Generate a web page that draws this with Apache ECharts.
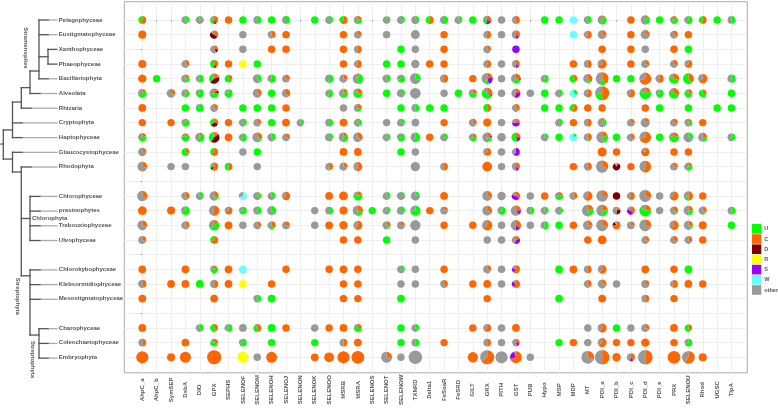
<!DOCTYPE html>
<html>
<head>
<meta charset="utf-8">
<title>Selenoprotein families across taxa</title>
<style>
  html, body { margin: 0; padding: 0; background: #fff; }
  #chart { width: 778px; height: 408px; }
</style>
<script src="https://cdn.jsdelivr.net/npm/echarts@6/dist/echarts.min.js"></script>
</head>
<body>
<div id="chart"></div>
<script>
var families = ['AhpC_a', 'AhpC_b', 'SymSEP', 'DsbA', 'DIO', 'GPX', 'SEPHS', 'SELENOF', 'SELENOM', 'SELENOH', 'SELENOJ',
  'SELENON', 'SELENOK', 'SELENOO', 'MSRB', 'MSRA', 'SELENOS', 'SELENOT', 'SELENOW', 'TXNRD', 'Delta1', 'FeSoaR', 'FeSRD',
  'GILT', 'GRX', 'PITH', 'GST', 'PUB', 'Hypo', 'MSP', 'MDP', 'MT', 'PDI_a', 'PDI_b', 'PDI_c', 'PDI_d', 'PDI_e', 'PRX',
  'SELENOU', 'Rhod', 'UGSC', 'TlpA'];

var taxa = ['Pelagophyceae', 'Eustigmatophyceae', 'Xanthophyceae', 'Phaeophyceae', 'Bacillariophyta', 'Alveolata', 'Rhizaria',
  'Cryptophyta', 'Haptophyceae', 'Glaucocystophyceae', 'Rhodophyta', '', 'Chlorophyceae', 'prasinophytes', 'Trebouxiophyceae',
  'Ulvophyceae', '', 'Chlorokybophyceae', 'Klebsormidiophyceae', 'Mesostigmatophyceae', '', 'Charophyceae', 'Coleochaetophyceae',
  'Embryophyta'];

var residues = ['U', 'C', 'D', 'R', 'S', 'W', 'other'];
var residueColors = ['#00ff00', '#ff6600', '#7f0000', '#ffff00', '#9900ff', '#66ffff', '#999999'];
var sliceOrder = ['C', 'D', 'R', 'S', 'U', 'W', 'other'];

// one row per taxon: [family index, shares (o = other), sequence count, default 10]
var pelagophyceae = [[0,'C65 U35',12],[3,'U40 o60',12],[4,'U15 o85',12],[5,'C40 D10 U30 o20',14],[6,'C'],[7,'U'],[8,'U50 o50',12],[9,'U'],[10,'U50 o50',12],
  [12,'U'],[13,'U30 o70',12],[14,'C65 U35',14],[15,'C20 U30 o50',14],[17,'U25 o75'],[18,'U30 o70',12],[19,'U25 o75',14],[20,'C55 U45',14],[21,'U50 o50',14],
  [22,'U30 o70',12],[23,'U'],[24,'C30 S25 U20 o25',17],[25,'o'],[26,'C50 o50',12],[28,'U'],[29,'U'],[30,'W'],[31,'U45 o55',12],[32,'C10 U45 o45',23],[34,'C'],
  [35,'C10 U35 o55',25],[36,'U'],[37,'C15 U50 o35',12],[38,'U60 o40',14],[39,'C60 U40',12],[40,'U'],[41,'U50 o50',12]];
var eustigmatophyceae = [[0,'C',14],[5,'C35 D50 o15',14],[7,'o'],[9,'C45 o55',12],[10,'C'],[14,'C'],[15,'C30 o70',12],[17,'o'],[19,'o',23],[21,'C'],
  [24,'C55 o45',12],[25,'o'],[26,'C35 S15 o50',14],[30,'W'],[31,'C60 o40',12],[32,'C30 o70',21],[34,'C'],[35,'C25 o75',25],[37,'C35 o65',12],[38,'C']];
var xanthophyceae = [[5,'C25 D15 o60',12],[7,'o'],[9,'C'],[10,'C'],[14,'C'],[15,'C50 o50',12],[18,'U'],[19,'o'],[21,'C'],[24,'C30 o70',12],[26,'S'],
  [32,'C'],[34,'C'],[35,'o'],[37,'C'],[38,'U']];
var phaeophyceae = [[0,'C',15],[3,'C35 o65',12],[5,'C40 D10 U50',14],[6,'C'],[7,'R'],[8,'U'],[14,'C'],[15,'C60 o40',12],[17,'U'],[18,'U'],[19,'o',17],[20,'C'],[21,'C'],
  [24,'C55 o45',12],[25,'o'],[26,'C35 S15 o50',12],[30,'C'],[31,'C50 o50',12],[32,'C70 o30',25],[34,'C'],[35,'C30 o70',14],[37,'C35 o65',12],[38,'C70 o30',12]];
var bacillariophyta = [[0,'C',17],[1,'U'],[3,'C20 U25 o55',17],[4,'U60 o40',12],[5,'C20 D45 U25 o10',42],[6,'C30 U70',12],[8,'U40 o60',21],[9,'U60 o40',17],[10,'C30 o70',12],
  [13,'U55 o45',14],[14,'C30 o70',14],[15,'C5 U45 o50',42],[17,'U40 o60',14],[18,'U70 o30',12],[19,'U30 o70',49],[21,'C50 o50',14],[23,'C'],[24,'C20 S25 U15 o40',57],
  [25,'o'],[26,'C25 S5 U30 o40',33],[28,'U55 o45',12],[30,'C40 U60',12],[31,'C40 U10 o50',25],[32,'C40 U15 o45',105],[33,'U'],[34,'U'],[35,'C70 o30',80],[36,'C60 o40',14],
  [37,'C30 U50 o20',42],[38,'C40 U60',53],[39,'C65 o35',27],[41,'U55 o45',14]];
var alveolata = [[0,'C15 U55 o30',21],[2,'C30 U5 o65',21],[3,'C15 U40 o45',14],[4,'U70 o30',14],[5,'C15 D10 U45 o30',27],[6,'U80 o20',14],[8,'C30 o70',23],[9,'U'],
  [10,'C40 o60',17],[13,'U55 o45',12],[14,'C20 U40 o40',23],[15,'C25 U55 o20',27],[17,'U'],[18,'U30 o70',14],[19,'o',49],[21,'o'],[22,'U'],[23,'C25 U50 o25',14],
  [24,'C30 S5 U50 o15',53],[25,'o'],[26,'C20 S35 o45',23],[27,'o'],[28,'U'],[29,'U35 o65',12],[30,'U30 W70',12],[31,'C55 o45',14],[32,'C50 U25 o25',160],[34,'C65 o35',14],
  [35,'C20 U60 o20',65],[36,'U70 o30',12],[37,'C30 U55 o15',42],[38,'C25 U60 o15',14],[39,'C30 U70',12],[41,'U']];
var rhizaria = [[0,'C',12],[3,'U'],[4,'U75 o25',12],[5,'C30 o70',12],[7,'U'],[8,'U'],[9,'U'],[10,'C'],[14,'o'],[15,'C30 U20 o50',12],[18,'U'],[19,'U50 o50',12],[20,'U'],[21,'U'],
  [24,'C50 U50',12],[26,'C40 o60',12],[28,'U'],[29,'U'],[30,'C60 U40',12],[31,'C'],[32,'C'],[35,'C'],[36,'U'],[38,'U'],[40,'U'],[41,'U']];
var cryptophyta = [[0,'C'],[2,'C'],[3,'C10 U60 o30',12],[5,'C30 D35 U35',14],[6,'C'],[7,'U40 o60',12],[8,'C30 o70',12],[9,'U'],[10,'C',12],[11,'U30 o70'],[13,'U50 o50',12],
  [14,'C',12],[15,'C10 U30 o60',12],[17,'o'],[18,'U30 o70',12],[19,'o',12],[21,'C'],[23,'C35 o65',12],[24,'C',14],[25,'o'],[26,'C25 S50 o25',12],[29,'U30 o70',12],
  [30,'C'],[31,'C50 o50',12],[32,'C10 U25 o65',23],[34,'C30 o70',12],[35,'C20 o80',25],[37,'C30 o70',12],[38,'C20 U25 o55',12],[39,'C']];
var haptophyceae = [[0,'C20 U50 o30',17],[3,'C15 U65 o20',14],[4,'C10 U50 o40',25],[5,'C15 D45 U35 o5',49],[6,'C',12],[7,'U60 o40',12],[8,'C30 U10 o60',33],[9,'U40 o60',14],
  [10,'C30 o70',12],[13,'U30 o70',14],[14,'C15 U40 o45',27],[15,'C35 o65',30],[17,'U35 o65',12],[18,'U70 o30',12],[19,'U60 o40',30],[20,'C'],[21,'U30 o70',12],
  [23,'C25 U40 o35',12],[24,'C20 S5 U20 o55',33],[25,'o',17],[26,'C25 S20 U55',23],[28,'U30 o70',12],[29,'U'],[30,'U20 W80',12],[31,'C45 U10 o45',14],[32,'C20 U25 o55',70],
  [33,'U'],[34,'C35 o65',12],[35,'C70 o30',70],[36,'U'],[37,'C20 U60 o20',33],[38,'U30 o70',33],[39,'C25 U25 o50',23],[41,'U45 o55',12]];
var glaucocystophyceae = [[0,'C25 o75',17],[3,'C30 U70',12],[5,'C70 U30',12],[7,'o'],[8,'U'],[14,'C',12],[15,'C',12],[18,'U'],[19,'o'],[24,'C70 o30',12],[25,'o'],[26,'S60 o40',12],
  [32,'C',23],[33,'C'],[35,'C80 o20',17],[37,'C'],[38,'C']];
var rhodophyta = [[0,'C30 o70',33],[2,'o'],[3,'o'],[5,'C60 D10 U10 o20',14],[6,'C50 U50',12],[8,'o'],[13,'C45 U10 o45',12],[14,'C30 o70',14],[15,'C55 o45',23],[19,'o',27],
  [21,'C50 o50',12],[24,'C',33],[25,'o'],[26,'C35 S15 o50',14],[30,'C'],[31,'C45 o55',14],[32,'C30 o70',86],[33,'C10 D80 o10'],[34,'C'],[35,'C55 o45',70],[37,'C30 o70',12],[38,'C20 U40 o40',14]];
var chlorophyceae = [[0,'C35 o65',42],[3,'C40 o60',14],[4,'U30 o70',12],[5,'C25 U15 o60',27],[7,'W70 o30',14],[8,'C10 U25 o65',14],[9,'U30 o70',12],[10,'C65 o35',17],[13,'C',12],
  [14,'C',21],[15,'C20 U60 o20',23],[17,'U30 o70',12],[18,'U20 o80',14],[19,'U20 o80',23],[21,'C',12],[24,'C30 o70',33],[25,'o',17],[26,'C35 S45 o20',17],[27,'o'],[28,'C'],
  [29,'C20 U50 o30',14],[30,'C40 o60',12],[31,'C60 o40',27],[32,'C25 o75',70],[33,'D'],[34,'C60 o40',12],[35,'C30 o70',80],[36,'o'],[37,'C70 o30',23],[38,'C50 U15 o35',27],[39,'C']];
var prasinophytes = [[0,'C',21],[2,'C',14],[3,'U70 o30',21],[5,'C55 o45',42],[6,'C70 o30',12],[7,'U70 o30',12],[8,'U45 o55',14],[9,'U40 o60',23],[12,'o'],[13,'U50 o50',12],
  [14,'C',14],[15,'C30 U25 o45',42],[16,'U'],[17,'U30 o70',12],[18,'U30 o70',14],[19,'U75 o25',42],[20,'C'],[21,'C25 o75',12],[24,'C35 o65',33],[25,'U65 o35',17],[26,'C25 S15 o60',42],
  [27,'U50 o50',12],[28,'U35 o65',12],[29,'C10 U25 o65',12],[31,'C20 U25 o55',70],[32,'C25 U25 o50',70],[33,'C20 D30 o50',12],[34,'C40 S40 o20',14],[35,'C25 U60 o15',75],[36,'o'],
  [37,'C35 U10 o55',14],[38,'C25 U25 o50',30],[39,'C30 U10 o60',14],[41,'U50 o50',12]];
var trebouxiophyceae = [[0,'C30 o70',33],[3,'C35 o65',14],[5,'C15 U50 o35',42],[6,'C',12],[7,'o'],[8,'C30 o70',12],[9,'C40 U20 o40',14],[10,'C25 o75',12],[12,'o'],[13,'C',12],
  [14,'C',17],[15,'C60 o40',23],[17,'C30 U15 o55',14],[18,'C25 o75',12],[19,'o',42],[21,'C'],[23,'C'],[24,'C65 o35',42],[25,'o'],[26,'C35 S15 o50',42],[27,'o'],[28,'U55 o45',14],
  [29,'U'],[30,'C'],[31,'C25 o75',30],[32,'C30 o70',75],[33,'C75 D15 o10',14],[34,'C25 o75',12],[35,'C30 o70',75],[37,'C60 o40',27],[38,'C25 U15 o60',25],[39,'C',14],[41,'U']];
var ulvophyceae = [[0,'C30 o70',14],[5,'C70 U30',12],[14,'C'],[15,'C'],[17,'U'],[19,'o'],[24,'o'],[25,'o'],[26,'C20 S35 o45',14],[31,'C'],[32,'C',21],[35,'C30 o70',12],[37,'C35 o65',12],[38,'C35 o65',12],[39,'C']];
var chlorokybophyceae = [[0,'C',12],[3,'C',12],[5,'C15 U60 o25',12],[6,'C',12],[7,'W',12],[10,'C'],[13,'C'],[14,'C',12],[15,'C'],[18,'U30 o70',12],[19,'o'],[21,'C'],[24,'C30 o70',14],[25,'o'],
  [26,'C60 S20 o20',14],[29,'U',12],[30,'C',12],[31,'C50 o50',12],[32,'C60 o40',21],[35,'C',12],[37,'C'],[38,'U',12]];
var klebsormidiophyceae = [[0,'C45 o55',15],[2,'C',12],[3,'C',12],[4,'U',12],[5,'C50 o50',14],[6,'C',12],[7,'R',12],[9,'C'],[14,'C'],[15,'C'],[18,'o'],[19,'o'],[21,'C45 o55',12],[23,'C'],[24,'C',12],[25,'o'],
  [26,'C60 S25 o15',14],[31,'C40 o60',12],[32,'C30 o70',21],[33,'o'],[35,'C25 o75',14],[37,'C60 o40',12],[38,'C',12],[39,'C']];
var mesostigmatophyceae = [[0,'C',12],[5,'C',12],[8,'U45 o55',12],[9,'U',12],[14,'C'],[15,'C'],[18,'U',12],[24,'C'],[29,'U',12],[32,'C',12],[35,'C50 o50',12],[37,'C']];
var charophyceae = [[0,'C',12],[4,'U40 o60',12],[5,'C40 U60',12],[6,'U60 o40',12],[7,'o',12],[8,'C50 U35 o15',12],[9,'U',12],[10,'C'],[12,'o'],[13,'C'],[14,'C',12],[15,'C25 U50 o25',12],
  [18,'U'],[19,'U35 o65',12],[23,'C'],[24,'C65 o35',12],[25,'o'],[26,'C',12],[31,'o'],[32,'C60 o40',23],[33,'U'],[34,'o'],[35,'C30 o70',14],[37,'C',12],[38,'C40 U60']];
var coleochaetophyceae = [[0,'C50 o50',12],[3,'C',12],[5,'C30 U50 o20',12],[7,'U70 o30',12],[9,'U'],[12,'U'],[14,'C50 o50',12],[15,'C',12],[18,'U'],[19,'U50 o50',12],[21,'C'],[24,'C50 o50',12],[25,'o'],
  [26,'C25 S20 o55'],[29,'U'],[30,'C'],[31,'o'],[32,'C65 o35',23],[33,'C'],[34,'C'],[35,'C',17],[37,'C'],[38,'U70 o30',12]];
var embryophyta = [[0,'C',86],[2,'C',14],[3,'C',57],[5,'C',160],[7,'R',57],[8,'o',10],[9,'C',53],[12,'C',12],[13,'C',33],[14,'C',86],[15,'C',105],[17,'C30 o70',53],[18,'o'],[19,'o',134],
  [23,'C',42],[24,'C65 o35',160],[25,'o',86],[26,'C70 S25 o5',75],[27,'o'],[31,'C30 o70',105],[32,'C50 o50',190],[33,'C',17],[34,'C40 S15 o45',14],[35,'C50 o50',190],[37,'C',105],[38,'C60 o40',105],[39,'C',15]];

var rows = [pelagophyceae, eustigmatophyceae, xanthophyceae, phaeophyceae, bacillariophyta, alveolata, rhizaria, cryptophyta,
  haptophyceae, glaucocystophyceae, rhodophyta, [], chlorophyceae, prasinophytes, trebouxiophyceae, ulvophyceae, [],
  chlorokybophyceae, klebsormidiophyceae, mesostigmatophyceae, [], charophyceae, coleochaetophyceae, embryophyta];

// tree, x = branch depth, y = row on the same scale as the taxa
var treeStems = [[3.3,7.48,9.46],[12.5,5.58,8],[21.3,4.6,6],[30,3.47,5],[39,0,4],[48,2,3],[12.5,9,10.34],[21.3,10,17.4],[30,12,15],[30,17,21.43],[39,21,23]];
var treeLinks = [[1,3.3,8.44],[3.3,12.5,7.48],[3.3,12.5,9.46],[12.5,21.3,5.58],[21.3,30,4.6],[30,39,3.47],[39,48,2.5],[12.5,21.3,10.34],[21.3,30,13.5],[21.3,30,17.4],[30,39,21.43]];
var treeTips = [[39,48,0],[39,48,1],[48,57,2],[48,57,3],[39,48,4],[30,40,5],[21.3,31,6],[12.5,22,7],[12.5,22,8],[12.5,22,9],[21.3,31,10],
  [30,40,12],[30,40,13],[30,40,14],[30,40,15],[30,40,17],[30,40,18],[30,40,19],[39,48,21],[39,48,22],[39,48,23]];
var treeEnd = 57;
var clades = [['Stramenopiles',26,1.9,-90],['Chlorophyta',32,13.46,0],['Streptophyta',17.5,18.8,-90],['Streptophyta',33,23.1,-90]];

var textColor = '#555';
var lineColor = '#aaa';
var fontFamily = '"Liberation Sans", Arial, sans-serif';

function parseShares(text) {
  var shares = {};
  text.split(' ').forEach(function (part) {
    var key = part[0] === 'o' ? 'other' : part[0];
    shares[key] = part.length > 1 ? +part.slice(1) : 100;
  });
  return shares;
}

function radiusOf(count) {
  return 3.72 * Math.pow(count / 10, 0.23);
}

var integerCols = families.map(function (d, i) { return i; });
var integerRows = taxa.map(function (d, i) { return i; });
var halfCols = [], halfRows = [];
for (var i = -1; i <= 42; i += 0.5) halfCols.push(i);
for (var j = -1; j <= 24; j += 0.5) halfRows.push(j);

var series = [];
rows.forEach(function (cells, row) {
  cells.forEach(function (cell) {
    var shares = parseShares(cell[1]);
    var slices = [];
    sliceOrder.forEach(function (key) {
      if (shares[key]) {
        slices.push({ name: key, value: shares[key], itemStyle: { color: residueColors[residues.indexOf(key)] } });
      }
    });
    series.push({
      type: 'pie',
      coordinateSystem: 'cartesian2d',
      xAxisIndex: 0,
      yAxisIndex: 0,
      center: [cell[0], row],
      radius: radiusOf(cell[2] || 10),
      startAngle: 90,
      clockwise: true,
      silent: true,
      animation: false,
      label: { show: false },
      labelLine: { show: false },
      data: slices
    });
  });
});

// tree segments go on their own hidden axes, y matches the panel
var treeDark = [], treeLight = [];
treeStems.forEach(function (d) { treeDark.push([d[0], d[1], d[0], d[2]]); });
treeLinks.forEach(function (d) { treeDark.push([d[0], d[2], d[1], d[2]]); });
treeTips.forEach(function (d) {
  treeDark.push([d[0], d[2], d[1], d[2]]);
  treeLight.push([d[1], d[2], treeEnd, d[2]]);
});

function branchSeries(data, color, z) {
  return {
    type: 'custom',
    xAxisIndex: 1,
    yAxisIndex: 1,
    silent: true,
    animation: false,
    z: z,
    encode: { x: [0, 2], y: [1, 3] },
    data: data,
    renderItem: function (params, api) {
      var a = api.coord([api.value(0), api.value(1)]);
      var b = api.coord([api.value(2), api.value(3)]);
      return {
        type: 'line',
        shape: { x1: a[0], y1: a[1], x2: b[0], y2: b[1] },
        style: { stroke: color, lineWidth: 1.3, lineCap: 'square' }
      };
    }
  };
}
series.push(branchSeries(treeLight, '#aaa', 2));
series.push(branchSeries(treeDark, '#555', 3));
series.push({
  type: 'custom',
  xAxisIndex: 1,
  yAxisIndex: 1,
  silent: true,
  animation: false,
  z: 4,
  data: clades.map(function (d) { return [d[1], d[2], d[3], d[0]]; }),
  encode: { x: 0, y: 1 },
  renderItem: function (params, api) {
    var p = api.coord([api.value(0), api.value(1)]);
    var angle = api.value(2);
    var item = clades[params.dataIndex];
    return {
      type: 'text',
      x: p[0],
      y: p[1],
      rotation: angle * Math.PI / 180,
      style: {
        text: item[0],
        fill: textColor,
        font: 'bold 6px ' + fontFamily,
        align: angle ? 'center' : 'left',
        verticalAlign: 'middle'
      }
    };
  }
});

var chart = echarts.init(document.getElementById('chart'), null, { renderer: 'canvas' });
chart.setOption({
  animation: false,
  backgroundColor: '#fff',
  legend: {
    data: residues,
    orient: 'vertical',
    left: 752,
    top: 224,
    icon: 'rect',
    itemWidth: 9.3,
    itemHeight: 9.6,
    itemGap: 0.6,
    selectedMode: false,
    padding: 0,
    textStyle: { fontSize: 5.5, fontWeight: 'bold', color: textColor, fontFamily: fontFamily, padding: [0, 0, 0, -2] }
  },
  grid: [
    { left: 124.3, top: 1.7, width: 623, height: 372, show: true, borderColor: lineColor, borderWidth: 1, backgroundColor: '#fff' },
    { left: 0, top: 1.7, width: 124.3, height: 372, show: false }
  ],
  xAxis: [
    {
      type: 'value',
      gridIndex: 0,
      min: -1.253,
      max: 42.1,
      axisLine: { show: false },
      axisTick: { show: true, length: 2, customValues: integerCols, lineStyle: { color: lineColor, width: 1 } },
      splitLine: { show: true, customValues: halfCols, lineStyle: { color: '#eeeeee', width: 1 } },
      axisLabel: {
        show: true,
        customValues: integerCols,
        rotate: 90,
        align: 'center',
        margin: 17,
        fontSize: 6,
        fontWeight: 'bold',
        color: textColor,
        fontFamily: fontFamily,
        formatter: function (v) { return families[v]; }
      }
    },
    { type: 'value', gridIndex: 1, min: 0, max: 124.3, show: false }
  ],
  yAxis: [
    {
      type: 'value',
      gridIndex: 0,
      inverse: true,
      min: -1.245,
      max: 24.06,
      axisLine: { show: false },
      axisTick: { show: true, length: 2, customValues: integerRows, lineStyle: { color: lineColor, width: 1 } },
      splitLine: { show: true, customValues: halfRows, lineStyle: { color: '#eeeeee', width: 1 } },
      axisLabel: {
        show: true,
        customValues: integerRows,
        align: 'left',
        margin: 65.5,
        fontSize: 6,
        fontWeight: 'bold',
        color: textColor,
        fontFamily: fontFamily,
        formatter: function (v) { return taxa[v]; }
      }
    },
    { type: 'value', gridIndex: 1, inverse: true, min: -1.245, max: 24.06, show: false }
  ],
  series: series
});
</script>
</body>
</html>
